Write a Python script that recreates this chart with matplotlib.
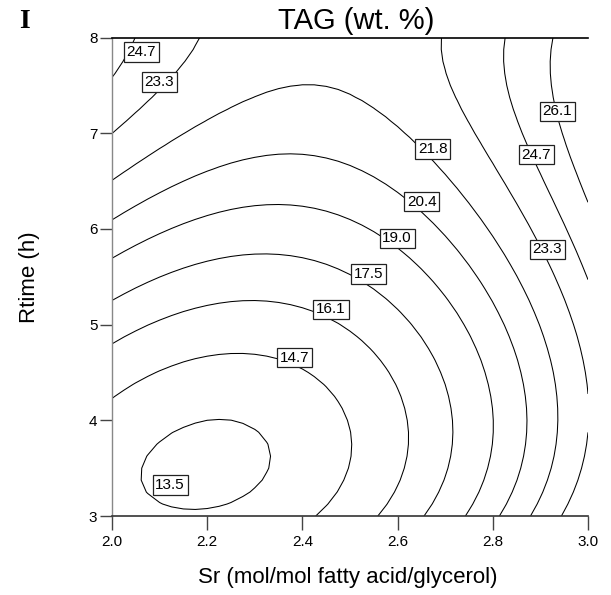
import numpy as np
import matplotlib
matplotlib.use("Agg")
import matplotlib.pyplot as plt

plt.rcParams['font.family'] = ['Liberation Sans', 'DejaVu Sans']

# Contour levels of TAG content (wt. %)
levels = [13.5, 14.7, 16.1, 17.5, 19.0, 20.4, 21.8, 23.3, 24.7, 26.1]

# Points (Sr, time)
iso_13_5 = [(2.062, 3.449), (2.338, 3.616), (2.227, 4.038), (2.164, 3.063),
            (2.115, 3.864), (2.304, 3.899), (2.283, 3.202)]
iso_14_7 = [(2.000, 4.181), (2.080, 4.526), (2.262, 4.682), (2.346, 4.630),
            (2.388, 4.546), (2.479, 4.142), (2.500, 3.721), (2.472, 3.306),
            (2.426, 3.000)]
iso_16_1 = [(2.000, 4.808), (2.115, 5.083), (2.275, 5.239), (2.426, 5.135),
            (2.461, 5.030), (2.577, 4.491), (2.622, 3.982), (2.591, 3.237),
            (2.563, 3.000)]
iso_17_5 = [(2.000, 5.257), (2.324, 5.738), (2.496, 5.536), (2.542, 5.414),
            (2.668, 4.805), (2.674, 4.700), (2.721, 3.930), (2.695, 3.345),
            (2.662, 3.000)]
iso_19_0 = [(2.000, 5.675), (2.185, 6.125), (2.332, 6.229), (2.500, 6.062),
            (2.559, 5.957), (2.605, 5.800), (2.710, 5.257), (2.794, 4.390),
            (2.800, 3.970), (2.773, 3.303), (2.742, 3.000)]
iso_20_4 = [(2.000, 6.093), (2.185, 6.584), (2.359, 6.772), (2.500, 6.647),
            (2.611, 6.354), (2.658, 6.180), (2.800, 5.257), (2.851, 4.735),
            (2.873, 4.000), (2.843, 3.303), (2.815, 3.000)]
iso_21_8 = [(2.000, 6.511), (2.185, 7.065), (2.311, 7.420), (2.410, 7.525),
            (2.500, 7.420), (2.548, 7.274), (2.632, 6.960), (2.682, 6.720),
            (2.779, 5.956), (2.878, 5.257), (2.937, 3.960), (2.874, 3.000)]
iso_23_3 = [(2.000, 6.990), (2.044, 7.242), (2.090, 7.420), (2.143, 7.660),
            (2.178, 8.000), (2.693, 8.000), (2.746, 7.065), (2.788, 6.720),
            (2.836, 6.197), (2.914, 5.785), (2.956, 5.152), (2.994, 3.960),
            (2.937, 3.000)]
iso_24_7 = [(2.000, 7.580), (2.024, 7.750), (2.055, 8.000), (2.826, 8.000),
            (2.872, 6.898), (2.891, 6.777), (2.956, 6.020), (3.000, 5.435)]
iso_26_1 = [(2.924, 8.000), (2.924, 7.480), (2.936, 7.227), (3.000, 6.270)]

iso_lines = [iso_13_5, iso_14_7, iso_16_1, iso_17_5, iso_19_0,
             iso_20_4, iso_21_8, iso_23_3, iso_24_7, iso_26_1]

# Estimated TAG at the lower-right corner (no iso-line reaches it)
corner_sr = [3.0]
corner_time = [3.0]
corner_tag = [24.4]

# Inline label placement (level, Sr, time)
label_levels = [24.7, 23.3, 21.8, 20.4, 19.0, 17.5, 16.1, 14.7, 13.5,
                26.1, 24.7, 23.3]
label_sr = [2.061, 2.099, 2.674, 2.651, 2.599, 2.539, 2.460, 2.384, 2.122,
            2.936, 2.891, 2.914]
label_time = [7.850, 7.536, 6.835, 6.286, 5.900, 5.529, 5.158, 4.656, 3.324,
              7.227, 6.777, 5.785]

x_ticks = [2.0, 2.2, 2.4, 2.6, 2.8, 3.0]
y_ticks = [3, 4, 5, 6, 7, 8]

# ---- response surface: quartic polynomial fitted to the traced points ----
pts_x, pts_y, pts_z = list(corner_sr), list(corner_time), list(corner_tag)
for lev, pts in zip(levels, iso_lines):
    for sx, ty in pts:
        pts_x.append(sx)
        pts_y.append(ty)
        pts_z.append(lev)
pts_x = np.array(pts_x)
pts_y = np.array(pts_y)
pts_z = np.array(pts_z)

DEG = 4

def basis(x, y):
    u = (x - 2.5) / 0.5
    v = (y - 5.5) / 2.5
    cols = []
    for i in range(DEG + 1):
        for j in range(DEG + 1 - i):
            cols.append(u ** i * v ** j)
    return np.stack(cols, axis=-1)

coef, *_ = np.linalg.lstsq(basis(pts_x, pts_y), pts_z, rcond=None)

gx = np.linspace(2.0, 3.0, 41)
gy = np.linspace(3.0, 8.0, 41)
GX, GY = np.meshgrid(gx, gy)
GZ = basis(GX, GY) @ coef

# ---- figure ----
fig = plt.figure(figsize=(6.11, 5.95), dpi=100)
ax = fig.add_axes([112 / 611, 1 - 516 / 595, 476 / 611, 478.5 / 595])

ax.contour(GX, GY, GZ, levels=levels, colors='black', linewidths=0.75)

for lev, sx, ty in zip(label_levels, label_sr, label_time):
    ax.text(sx, ty, f"{lev:.1f}", fontsize=11, ha='center', va='center',
            zorder=5,
            bbox=dict(boxstyle='square,pad=0.18', fc='white', ec='#222222',
                      lw=0.9))

ax.set_xlim(2.0, 3.0)
ax.set_ylim(3.0, 8.0)
ax.set_xticks(x_ticks)
ax.set_xticklabels([f"{v:.1f}" for v in x_ticks])
ax.set_yticks(y_ticks)
ax.set_yticklabels([str(v) for v in y_ticks])
ax.tick_params(axis='x', direction='out', length=10, width=1,
               color='#444444', labelsize=11, pad=4)
ax.tick_params(axis='y', direction='out', length=8.5, width=1,
               color='#444444', labelsize=11, pad=2)

ax.spines['right'].set_visible(False)
ax.spines['top'].set_color('black')
ax.spines['top'].set_linewidth(1.2)
ax.spines['bottom'].set_color('#333333')
ax.spines['bottom'].set_linewidth(1.2)
ax.spines['left'].set_color('#888888')
ax.spines['left'].set_linewidth(1.0)

fig.text(356 / 611, 1 - 21 / 595, 'TAG (wt. %)', fontsize=21,
         ha='center', va='center')
fig.text(348 / 611, 1 - 577 / 595, 'Sr (mol/mol fatty acid/glycerol)',
         fontsize=16, ha='center', va='center')
fig.text(30 / 611, 1 - 277 / 595, 'Rtime (h)', fontsize=16,
         rotation=90, ha='center', va='center')
fig.text(24 / 611, 1 - 21 / 595, 'I', fontsize=20, fontweight='bold',
         family=['Liberation Serif', 'DejaVu Serif'],
         ha='center', va='center')

fig.savefig('out.png', dpi=100)
